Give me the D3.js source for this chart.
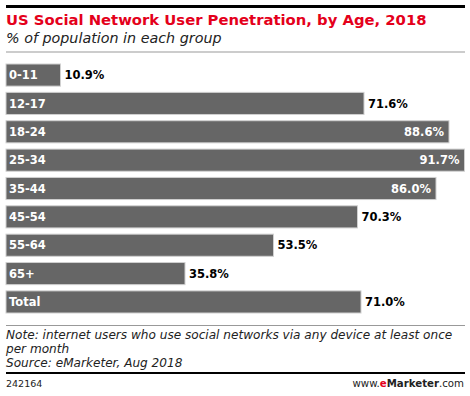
<!DOCTYPE html>
<meta charset="utf-8">
<script src="https://d3js.org/d3.v7.min.js"></script>
<style>
  body { margin: 0; background: #fff; }
  svg { display: block; font-family: "DejaVu Sans", Verdana, sans-serif; }
</style>
<svg></svg>
<script>
    var width = 470, height = 396;
    var margin = ({top: 64, right: 6, bottom: 83, left: 6});

    // chart data
    var ageGroups = ["0-11", "12-17", "18-24", "25-34", "35-44", "45-54", "55-64", "65+", "Total"];
    var penetration = [10.9, 71.6, 88.6, 91.7, 86.0, 70.3, 53.5, 35.8, 71.0];

    var data = ageGroups.map((g, i) => ({group: g, value: penetration[i]}));

    var svg = d3.select("svg")
        .attr("width", width)
        .attr("height", height)
        .attr("viewBox", [0, 0, width, height]);

    var x = d3.scaleLinear()
        .domain([0, 91.7])
        .range([margin.left, 464.5]);

    var y = d3.scaleBand()
        .domain(ageGroups)
        .range([margin.top, height - margin.bottom])
        .paddingInner(0.22)
        .paddingOuter(0.0);

    // header rules + titles
    svg.append("rect").attr("x", 6).attr("y", 5).attr("width", 459).attr("height", 3).attr("fill", "#000");
    svg.append("text")
        .attr("x", 6).attr("y", 25)
        .attr("fill", "#e4001b")
        .attr("font-weight", "bold")
        .attr("font-size", 14.8)
        .text("US Social Network User Penetration, by Age, 2018");
    svg.append("text")
        .attr("x", 6).attr("y", 43)
        .attr("fill", "#222")
        .attr("font-style", "italic")
        .attr("font-size", 14.3)
        .text("% of population in each group");
    svg.append("rect").attr("x", 6).attr("y", 51.5).attr("width", 459).attr("height", 1).attr("fill", "#999");

    // bars
    var bar = svg.append("g").selectAll("g")
        .data(data)
        .join("g");

    bar.append("rect")
        .attr("x", x(0))
        .attr("y", d => y(d.group))
        .attr("width", d => x(d.value) - x(0))
        .attr("height", y.bandwidth())
        .attr("fill", "#666")
        .attr("stroke", "#d0d0d0")
        .attr("stroke-width", 1);

    bar.append("text")
        .attr("x", x(0) + 3)
        .attr("y", d => y(d.group) + y.bandwidth() / 2)
        .attr("dy", "0.36em")
        .attr("fill", "#fff")
        .attr("font-weight", "bold")
        .attr("font-size", 11.5)
        .text(d => d.group);

    var inside = d => d.value > 80;
    bar.append("text")
        .attr("x", d => inside(d) ? x(d.value) - 5 : x(d.value) + 4)
        .attr("y", d => y(d.group) + y.bandwidth() / 2)
        .attr("dy", "0.36em")
        .attr("text-anchor", d => inside(d) ? "end" : "start")
        .attr("fill", d => inside(d) ? "#fff" : "#000")
        .attr("font-weight", "bold")
        .attr("font-size", 11.5)
        .text(d => d.value.toFixed(1) + "%");

    // footer
    svg.append("rect").attr("x", 6).attr("y", 325).attr("width", 459).attr("height", 1).attr("fill", "#999");
    var notes = ["Note: internet users who use social networks via any device at least once",
                 "per month",
                 "Source: eMarketer, Aug 2018"];
    svg.append("g").selectAll("text")
        .data(notes)
        .join("text")
        .attr("x", 6)
        .attr("y", (d, i) => 339 + i * 14)
        .attr("font-style", "italic")
        .attr("font-size", 12.1)
        .attr("fill", "#222")
        .text(d => d);
    svg.append("rect").attr("x", 6).attr("y", 372).attr("width", 459).attr("height", 2).attr("fill", "#000");
    svg.append("text")
        .attr("x", 6).attr("y", 387)
        .attr("font-size", 9.5)
        .attr("fill", "#222")
        .text("242164");
    var brand = svg.append("text")
        .attr("x", 464).attr("y", 387)
        .attr("text-anchor", "end")
        .attr("font-size", 10.2)
        .attr("fill", "#222");
    brand.append("tspan").text("www.");
    brand.append("tspan").attr("fill", "#e4001b").attr("font-weight", "bold").text("e");
    brand.append("tspan").attr("font-weight", "bold").text("Marketer");
    brand.append("tspan").text(".com");
</script>
